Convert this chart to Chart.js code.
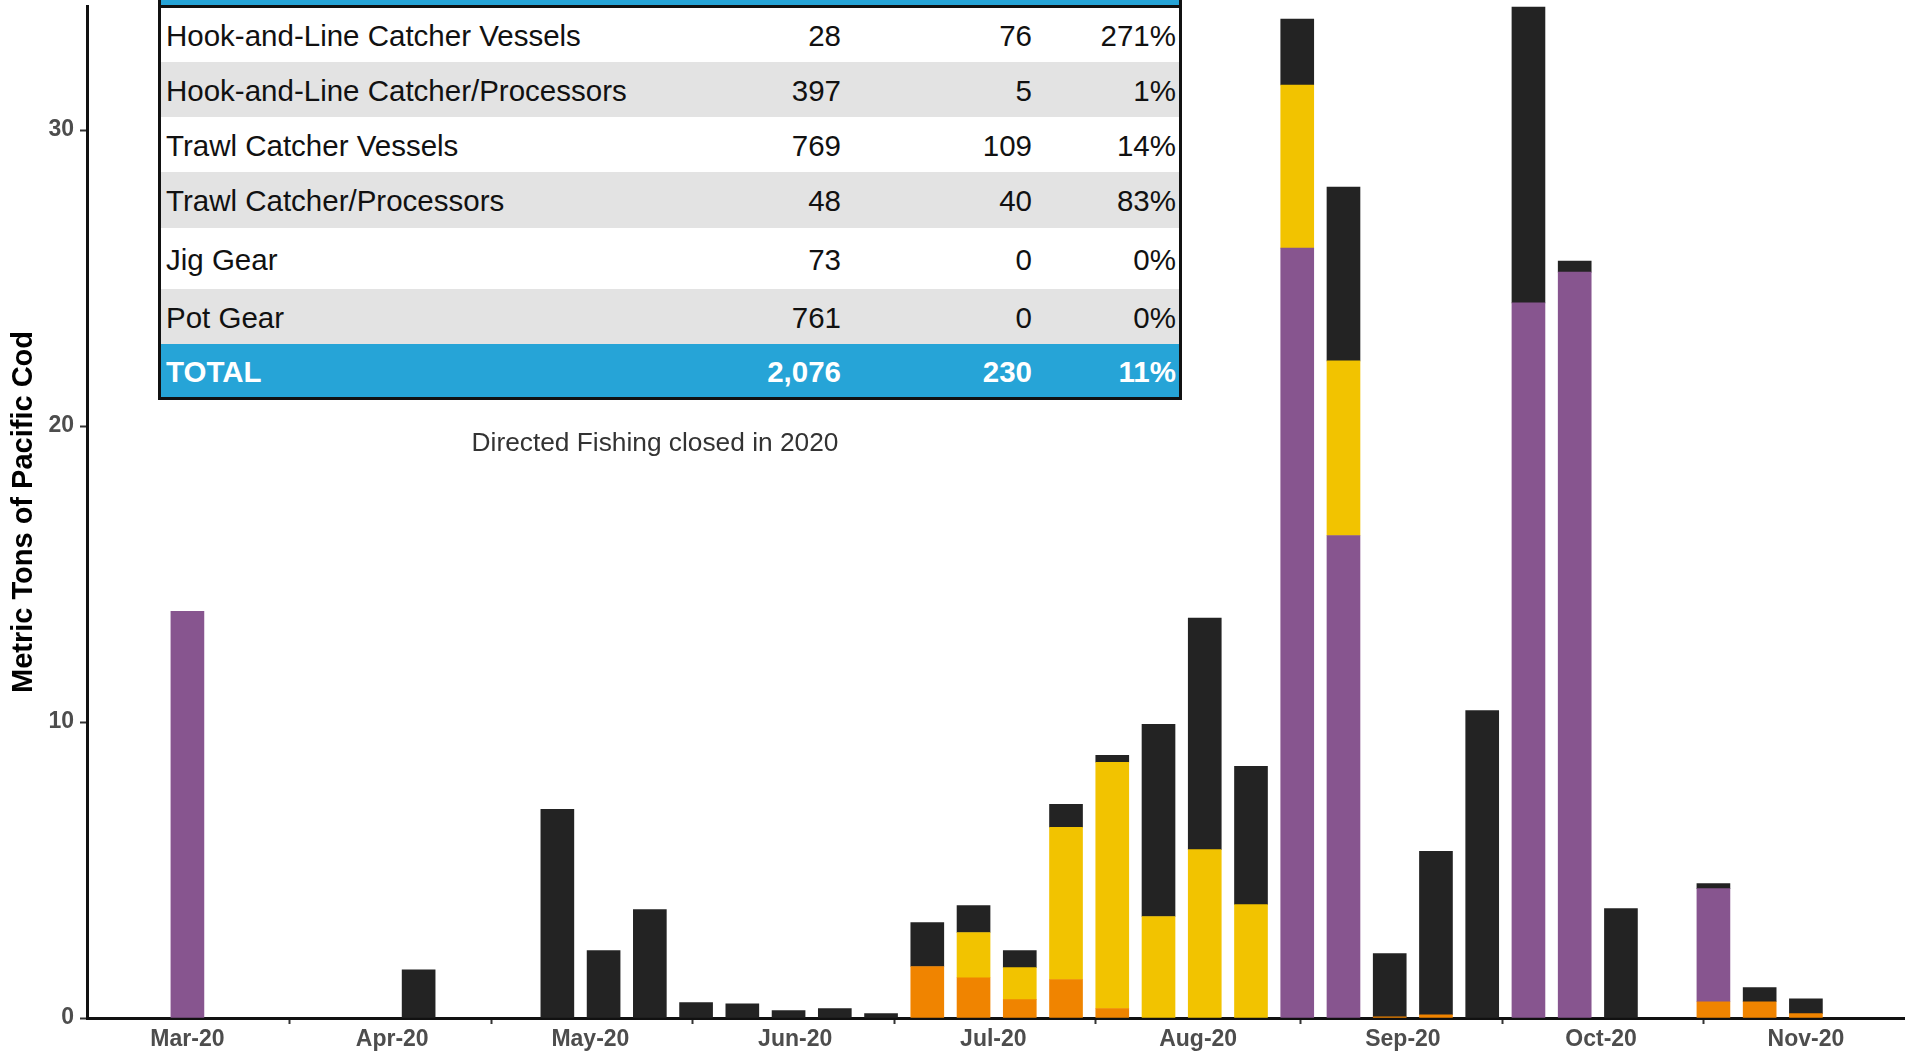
<!DOCTYPE html>
<html>
<head>
<meta charset="utf-8">
<title>Metric Tons of Pacific Cod</title>
<script src="https://cdn.jsdelivr.net/npm/chart.js@4.4.1/dist/chart.umd.min.js"></script>
<style>
  html, body { margin: 0; padding: 0; background: #fff; overflow: hidden; }
  #wrap { position: relative; width: 1905px; height: 1053px; }
  #chart { position: absolute; left: 0; top: 0; }
  .tbl { position: absolute; left: 158px; top: -48px; width: 1024px; box-sizing: border-box;
         border: 3px solid #111; background: #fff;
         font-family: 'Liberation Sans', Arial, sans-serif; font-size: 29.5px; color: #111; }
  .row { display: flex; align-items: center; height: 55px; }
  .row .c { box-sizing: border-box; white-space: nowrap; padding-top: 2px; }
  .row .c0 { flex: 0 0 539px; padding-left: 5px; }
  .row .c1 { flex: 0 0 145px; text-align: right; padding-right: 4px; }
  .row .c2 { flex: 0 0 191px; text-align: right; padding-right: 4px; }
  .row .c3 { flex: 0 0 143px; text-align: right; padding-right: 3px; }
  .row.head { height: 50px; background: #26a4d7; border-bottom: 3px solid #111; }
  .row.grey { background: #e3e3e3; }
  .row.total { background: #26a4d7; color: #fff; font-weight: bold; height: 53px; }
  .note { position: absolute; left: 405px; top: 427px; width: 500px; text-align: center;
          font-family: 'Liberation Sans', Arial, sans-serif; font-size: 26.3px; line-height: 30px; color: #333; }
</style>
</head>
<body>
<div id="wrap">
  <canvas id="chart" width="1905" height="1053"></canvas>
  <div class="tbl" id="tbl"></div>
  <div class="note" id="note"></div>
</div>
<script>
// week of catch (Sunday)
const weeks = ['2020-03-01','2020-03-08','2020-03-15','2020-03-22','2020-03-29','2020-04-05','2020-04-12','2020-04-19',
  '2020-04-26','2020-05-03','2020-05-10','2020-05-17','2020-05-24','2020-05-31','2020-06-07','2020-06-14',
  '2020-06-21','2020-06-28','2020-07-05','2020-07-12','2020-07-19','2020-07-26','2020-08-02','2020-08-09',
  '2020-08-16','2020-08-23','2020-08-30','2020-09-06','2020-09-13','2020-09-20','2020-09-27','2020-10-04',
  '2020-10-11','2020-10-18','2020-10-25','2020-11-01'];

// metric tons by sector, stacked bottom to top
const hlCP = [0,0,0,0,0,0,0,0, 0,0,0,0,0,0,0,0, 1.74,1.36,0.62,1.30,0.32,0,0,0, 0,0,0.04,0.11,0,0,0,0, 0,0.55,0.55,0.15];
const trawlCV = [13.74,0,0,0,0,0,0,0, 0,0,0,0,0,0,0,0, 0,0,0,0,0,0,0,0, 26.01,16.30,0,0,0,24.16,25.20,0, 0,3.82,0,0];
const trawlCP = [0,0,0,0,0,0,0,0, 0,0,0,0,0,0,0,0, 0,1.53,1.08,5.14,8.32,3.43,5.69,3.83, 5.51,5.90,0,0,0,0,0,0, 0,0,0,0];
const hlCV = [0,0,0,0,0,1.63,0,0, 7.05,2.28,3.66,0.52,0.48,0.25,0.32,0.15, 1.48,0.91,0.58,0.78,0.23,6.49,7.82,4.67,
  2.23,5.87,2.14,5.52,10.39,9.99,0.37,3.70, 0,0.17,0.48,0.50];

const monthDates = ['2020-03-01','2020-04-01','2020-05-01','2020-06-01','2020-07-01','2020-08-01','2020-09-01','2020-10-01','2020-11-01'];
const monthLabels = ['Mar-20','Apr-20','May-20','Jun-20','Jul-20','Aug-20','Sep-20','Oct-20','Nov-20'];
const yTicks = [0, 10, 20, 30];

// table
const sectors = ['Hook-and-Line Catcher Vessels','Hook-and-Line Catcher/Processors','Trawl Catcher Vessels',
  'Trawl Catcher/Processors','Jig Gear','Pot Gear'];
const allocation = ['28','397','769','48','73','761'];
const caught = ['76','5','109','40','0','0'];
const pctTaken = ['271%','1%','14%','83%','0%','0%'];
const totalRow = ['TOTAL','2,076','230','11%'];
const note = 'Directed Fishing closed in 2020';

const DAY = 86400000;
const t0 = Date.UTC(2020, 2, 1);
function dayNum(s) {
  const p = s.split('-');
  return (Date.UTC(+p[0], +p[1] - 1, +p[2]) - t0) / DAY;
}
const xs = weeks.map(dayNum);
const monthDays = monthDates.map(dayNum);

function series(label, vals, color) {
  return {
    label: label,
    // empty weeks are left out so no hairline is drawn on the axis
    data: vals.map((v, i) => ({ x: xs[i], y: v ? v : null })),
    backgroundColor: color,
    borderWidth: 0,
    barThickness: 33
  };
}

const font = "'Liberation Sans', Arial, sans-serif";

new Chart(document.getElementById('chart'), {
  type: 'bar',
  data: {
    datasets: [
      series('Hook-and-Line Catcher/Processors', hlCP, '#f08400'),
      series('Trawl Catcher Vessels', trawlCV, '#87558f'),
      series('Trawl Catcher/Processors', trawlCP, '#f2c300'),
      series('Hook-and-Line Catcher Vessels', hlCV, '#232323')
    ]
  },
  options: {
    responsive: false,
    animation: false,
    layout: { padding: { top: 6, right: 0, bottom: 0, left: 0 } },
    plugins: { legend: { display: false }, tooltip: { enabled: false } },
    scales: {
      x: {
        type: 'linear',
        stacked: true,
        offset: false,
        min: -15.2,
        max: 260,
        afterBuildTicks: (scale) => { scale.ticks = monthDays.map(v => ({ value: v })); },
        afterFit: (scale) => {
          scale.height = 35;
          scale.paddingLeft = 0; scale.paddingRight = 0;
        },
        ticks: {
          callback: (v, i) => monthLabels[i],
          font: { family: font, size: 23, weight: 'bold' },
          color: '#4d4d4d',
          padding: 2,
          maxRotation: 0,
          autoSkip: false
        },
        grid: { drawOnChartArea: false, drawTicks: true, tickLength: 6, tickWidth: 2, tickColor: '#333' },
        border: { display: true, color: '#111', width: 3 }
      },
      y: {
        stacked: true,
        min: 0,
        max: 34.19,
        afterBuildTicks: (scale) => { scale.ticks = yTicks.map(v => ({ value: v })); },
        afterFit: (scale) => {
          scale.width = 87;
          scale.paddingTop = 0; scale.paddingBottom = 0;
        },
        ticks: {
          font: { family: font, size: 23, weight: 'bold' },
          color: '#4d4d4d',
          padding: 6
        },
        grid: { drawOnChartArea: false, drawTicks: true, tickLength: 7, tickWidth: 2, tickColor: '#333' },
        border: { display: true, color: '#111', width: 3 },
        title: {
          display: true,
          text: 'Metric Tons of Pacific Cod',
          font: { family: font, size: 29, weight: 'bold' },
          color: '#000',
          padding: { top: 7, bottom: 0 }
        }
      }
    }
  }
});

// build the table overlay
const tbl = document.getElementById('tbl');
function addRow(cells, cls) {
  const r = document.createElement('div');
  r.className = 'row ' + cls;
  cells.forEach((t, i) => {
    const c = document.createElement('div');
    c.className = 'c c' + i;
    c.textContent = t;
    r.appendChild(c);
  });
  tbl.appendChild(r);
  return r;
}
addRow(['', '', '', ''], 'head');
const rowHeights = [54, 55, 55, 56, 61, 55];
sectors.forEach((s, i) => {
  const r = addRow([s, allocation[i], caught[i], pctTaken[i]], i % 2 ? 'grey' : '');
  r.style.height = rowHeights[i] + 'px';
});
addRow(totalRow, 'total');
document.getElementById('note').textContent = note;
</script>
</body>
</html>
